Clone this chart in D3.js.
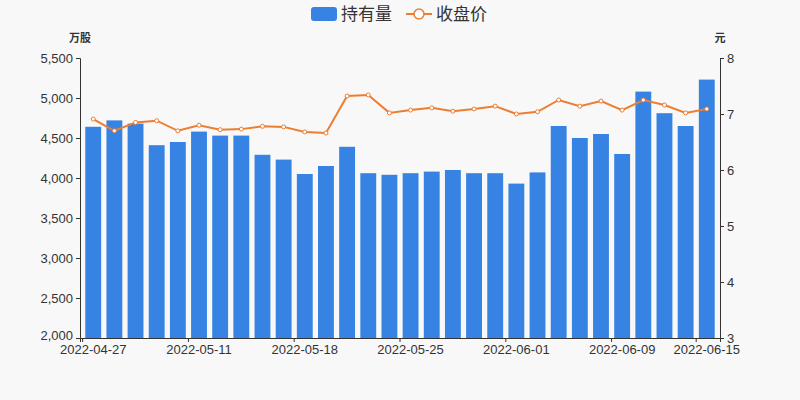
<!DOCTYPE html><html><head><meta charset="utf-8"><script src="https://cdn.jsdelivr.net/npm/d3@7"></script>
<style>body{margin:0;background:#f8f8f8}text{font-family:"Liberation Sans","Noto Sans CJK SC",sans-serif}</style></head><body><svg id="c" width="800" height="400"></svg><script>
const dates=["2022-04-27","2022-04-28","2022-04-29","2022-05-05","2022-05-06","2022-05-11","2022-05-12","2022-05-13","2022-05-16","2022-05-17","2022-05-18","2022-05-19","2022-05-20","2022-05-23","2022-05-24","2022-05-25","2022-05-26","2022-05-27","2022-05-30","2022-05-31","2022-06-01","2022-06-02","2022-06-06","2022-06-07","2022-06-08","2022-06-09","2022-06-10","2022-06-13","2022-06-14","2022-06-15"];
const holdings=[4640,4720,4680,4410,4450,4580,4530,4530,4290,4230,4050,4150,4390,4060,4040,4060,4080,4100,4060,4060,3930,4070,4650,4500,4550,4300,5080,4810,4650,5230];
const prices=[6.91,6.70,6.85,6.88,6.70,6.80,6.72,6.73,6.78,6.77,6.68,6.66,7.32,7.34,7.02,7.07,7.11,7.05,7.09,7.14,7.00,7.04,7.25,7.14,7.23,7.07,7.25,7.16,7.02,7.09];
const leftTicks=[2000,2500,3000,3500,4000,4500,5000,5500];
const rightTicks=[3,4,5,6,7,8];
const svg=d3.select("#c"),L=80,R=720,T=58,B=338;
const x=d3.scaleBand().domain(dates).range([L,R]).padding(0.25);
const yl=d3.scaleLinear().domain([2000,5500]).range([B,T]);
const yr=d3.scaleLinear().domain([3,8]).range([B,T]);
const fmt=d3.format(",");
svg.append("g").selectAll("rect").data(holdings).join("rect").attr("x",(d,i)=>x(dates[i])).attr("width",x.bandwidth()).attr("y",d=>yl(d)).attr("height",d=>B-yl(d)).attr("fill","#3683e3");
const ga=svg.append("g").attr("transform",`translate(${L},0)`).call(d3.axisLeft(yl).tickValues(leftTicks).tickFormat(fmt).tickSize(4));
const gr=svg.append("g").attr("transform",`translate(${R},0)`).call(d3.axisRight(yr).tickValues(rightTicks).tickFormat(d3.format("d")).tickSize(4));
const gx=svg.append("g").attr("transform",`translate(0,${B})`).call(d3.axisBottom(x).tickValues(dates.filter((d,i)=>i%5==0||i==29)).tickSize(4));
gx.selectAll(".tick line").attr("transform",`translate(${-x.step()/2},0)`);
ga.selectAll(".tick text").filter(d=>d==2000).attr("dy","0.1em");
[ga,gr,gx].forEach(g=>{g.selectAll("path,line").attr("stroke","#333");g.selectAll("text").attr("fill","#333").style("font-size","13px")});
const line=d3.line().x((d,i)=>x(dates[i])+x.bandwidth()/2).y(d=>yr(d));
svg.append("path").datum(prices).attr("d",line).attr("fill","none").attr("stroke","#ed7d31").attr("stroke-width",2);
svg.append("g").selectAll("circle").data(prices).join("circle").attr("cx",(d,i)=>x(dates[i])+x.bandwidth()/2).attr("cy",d=>yr(d)).attr("r",2).attr("fill","#fff").attr("stroke","#ed7d31");
svg.append("text").attr("x",80).attr("y",42).attr("text-anchor","middle").style("font-size","11px").style("font-weight","bold").attr("fill","#333").text("万股");
svg.append("text").attr("x",720).attr("y",42).attr("text-anchor","middle").style("font-size","11px").style("font-weight","bold").attr("fill","#333").text("元");
svg.append("rect").attr("x",311).attr("y",7).attr("width",26).attr("height",14).attr("rx",3).attr("fill","#3683e3");
svg.append("text").attr("x",341).attr("y",20).style("font-size","17px").attr("fill","#333").text("持有量");
svg.append("line").attr("x1",406).attr("x2",432).attr("y1",14).attr("y2",14).attr("stroke","#ed7d31").attr("stroke-width",2);
svg.append("circle").attr("cx",419).attr("cy",14).attr("r",5).attr("fill","#fff").attr("stroke","#ed7d31").attr("stroke-width",1.5);
svg.append("text").attr("x",436).attr("y",20).style("font-size","17px").attr("fill","#333").text("收盘价");
</script></body></html>
